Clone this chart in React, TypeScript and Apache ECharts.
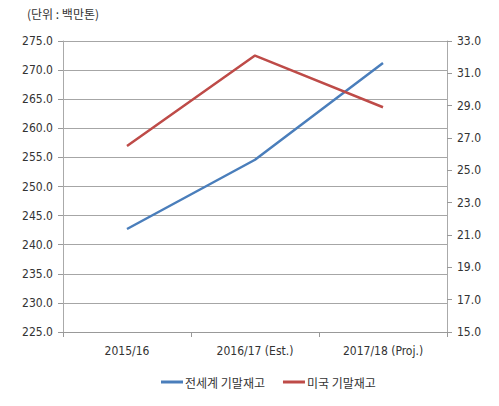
import React, { useEffect, useRef } from "react";
import * as echarts from "echarts";

const categories = ["2015/16", "2016/17 (Est.)", "2017/18 (Proj.)"];
const worldStocks = [242.7, 254.6, 271.2];
const usStocks = [26.5, 32.1, 28.9];
const leftTicks = { min: 225, max: 275, interval: 5 };
const rightTicks = { min: 15, max: 33, interval: 2 };

const FONT = "'Liberation Sans Narrow', 'DejaVu Sans Condensed', 'Noto Sans CJK KR', sans-serif";
const KFONT = "'Noto Sans CJK KR', sans-serif";

export default function App() {
  const ref = useRef<HTMLDivElement>(null);
  useEffect(() => {
    if (!ref.current) return;
    const chart = echarts.init(ref.current, null, { renderer: "svg" });
    chart.setOption({
      animation: false,
      backgroundColor: "#ffffff",
      graphic: [
        {
          type: "text",
          left: 27,
          top: 7,
          style: { text: "(단위 : 백만톤)", font: `12px ${KFONT}`, fill: "#333" },
        },
      ],
      legend: {
        bottom: 13,
        left: 156,
        itemWidth: 22,
        itemHeight: 3,
        itemGap: 18,
        icon: "rect",
        textStyle: { fontFamily: KFONT, fontSize: 12, color: "#333", padding: [0, 0, 0, -3] },
        data: ["전세계 기말재고", "미국 기말재고"],
      },
      grid: { left: 63, right: 52, top: 41, bottom: 74 },
      xAxis: {
        type: "category",
        data: categories,
        boundaryGap: true,
        axisLine: { lineStyle: { color: "#999" } },
        axisTick: { show: true, length: 5, lineStyle: { color: "#999" } },
        axisLabel: { color: "#333", fontFamily: FONT, fontSize: 12, margin: 13 },
      },
      yAxis: [
        {
          type: "value",
          ...leftTicks,
          axisLine: { show: true, lineStyle: { color: "#aaa" } },
          axisTick: { show: true, length: 5, lineStyle: { color: "#999" } },
          splitLine: { lineStyle: { color: "#a6a6a6" } },
          axisLabel: {
            color: "#333",
            fontFamily: FONT,
            fontSize: 12,
            margin: 10,
            formatter: (v: number) => v.toFixed(1),
          },
        },
        {
          type: "value",
          ...rightTicks,
          position: "right",
          axisLine: { show: true, lineStyle: { color: "#aaa" } },
          axisTick: { show: true, length: 5, lineStyle: { color: "#999" } },
          splitLine: { show: false },
          axisLabel: {
            color: "#333",
            fontFamily: FONT,
            fontSize: 12,
            margin: 10,
            formatter: (v: number) => v.toFixed(1),
          },
        },
      ],
      series: [
        {
          name: "전세계 기말재고",
          type: "line",
          yAxisIndex: 0,
          data: worldStocks,
          showSymbol: false,
          symbol: "none",
          itemStyle: { color: "#4a7ebb" },
          lineStyle: { color: "#4a7ebb", width: 2.5 },
        },
        {
          name: "미국 기말재고",
          type: "line",
          yAxisIndex: 1,
          data: usStocks,
          showSymbol: false,
          symbol: "none",
          itemStyle: { color: "#be4b48" },
          lineStyle: { color: "#be4b48", width: 2.5 },
        },
      ],
    });
    return () => chart.dispose();
  }, []);
  return <div ref={ref} style={{ width: 499, height: 406, position: "absolute", left: 0, top: 0 }} />;
}
